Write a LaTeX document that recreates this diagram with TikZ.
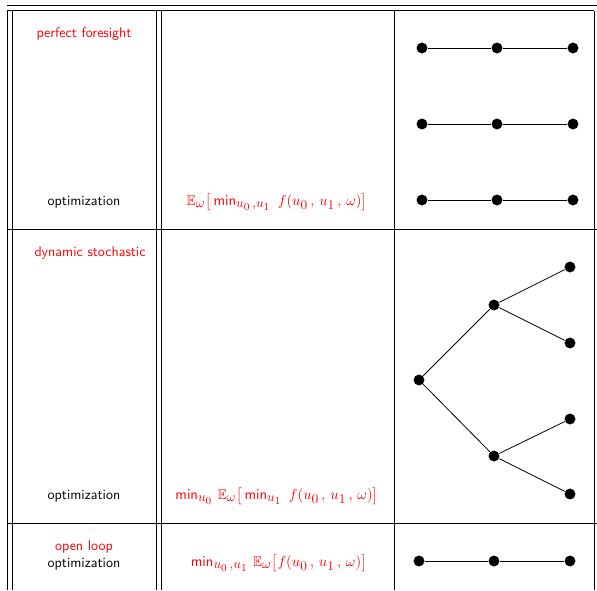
\documentclass[tikz,border=0pt]{standalone}
\usepackage{amsmath,amssymb}
\usetikzlibrary{positioning}
\DeclareMathSizes{10.5}{10.5}{10}{8}
\tikzset{
  dot/.style={circle,fill=black,inner sep=0pt,minimum size=8.2pt},
  txt/.style={font=\fontsize{10.5}{12}\selectfont\sffamily},
  rtxt/.style={font=\fontsize{10.5}{12}\selectfont\sffamily,text=red},
  rule/.style={line width=0.65pt}
}
\newcommand{\sfmin}{\mathop{\mathsf{min}}\nolimits}
\begin{document}
\begin{tikzpicture}[x=0.75pt,y=-0.75pt,line width=0.6pt]
        \useasboundingbox (0,0) rectangle (597,590);
        % Linhas da tabela
        \draw[rule] (7,5) -- (597,5);
        \draw[rule] (7,10.5) -- (594,10.5);
        \draw[rule] (7,229) -- (597,229);
        \draw[rule] (7,523) -- (597,523);
        \draw[rule] (7.5,10.5) -- (7.5,590);
        \draw[rule] (12.5,10.5) -- (12.5,590);
        \draw[rule] (156.5,10.5) -- (156.5,590);
        \draw[rule] (161.5,10.5) -- (161.5,590);
        \draw[rule] (394,10.5) -- (394,590);
        \draw[rule] (594,10.5) -- (594,590);

        % Previsao perfeita
        \node[rtxt] (pf) at (84,34) {perfect foresight};
        \node[txt] (opt1) at (84,202) {optimization};
        \node[rtxt] (crit1) at (277,202) {$\mathbb{E}_\omega\big[\sfmin_{u_0\,,u_1}\ f(u_0\,,\,u_1\,,\,\omega)\big]$};
        \foreach \y/\n in {48/a,124/b,200/c} {
          \node[dot] (\n0) at (422,\y) {};
          \node[dot] (\n1) at (497,\y) {};
          \node[dot] (\n2) at (573,\y) {};
          \draw (\n0) -- (\n1) -- (\n2);
        }

        % Estocastico dinamico
        \node[rtxt] (ds) at (90,253) {dynamic stochastic};
        \node[txt] (opt2) at (84,496) {optimization};
        \node[rtxt] (crit2) at (277,496) {$\sfmin_{u_0}\,\mathbb{E}_\omega\big[\sfmin_{u_1}\ f(u_0\,,\,u_1\,,\,\omega)\big]$};
        \node[dot] (root) at (419,380) {};
        \node[dot] (up) at (494,305) {};
        \node[dot] (dn) at (494,456) {};
        \node[dot] (l1) at (570,267) {};
        \node[dot] (l2) at (570,343) {};
        \node[dot] (l3) at (570,419) {};
        \node[dot] (l4) at (570,494) {};
        \draw (root) -- (up);
        \draw (root) -- (dn);
        \draw (up) -- (l1);
        \draw (up) -- (l2);
        \draw (dn) -- (l3);
        \draw (dn) -- (l4);

        % Malha aberta
        \node[rtxt] (ol) at (84,547) {open loop};
        \node[txt] (opt3) at (84,564) {optimization};
        \node[rtxt] (crit3) at (279,563) {$\sfmin_{u_0\,,u_1}\,\mathbb{E}_\omega\big[f(u_0\,,\,u_1\,,\,\omega)\big]$};
        \node[dot] (o0) at (419,561) {};
        \node[dot] (o1) at (494,561) {};
        \node[dot] (o2) at (570,561) {};
        \draw (o0) -- (o1) -- (o2);
\end{tikzpicture}
\end{document}
